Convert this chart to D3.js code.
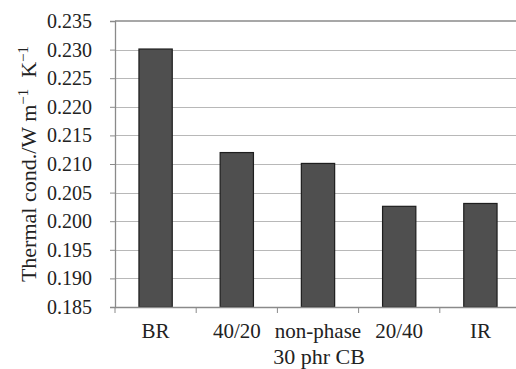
<!DOCTYPE html>
<html>
<head>
<meta charset="utf-8">
<script src="https://cdn.jsdelivr.net/npm/d3@7"></script>
<style>
  html, body { margin: 0; padding: 0; background: #fff; overflow: hidden; }
  svg text { font-family: "Liberation Serif", "Times New Roman", serif; fill: #222; }
</style>
</head>
<body>
<svg id="chart"></svg>
<script>
// data
var categories = ["BR", "40/20", "non-phase", "20/40", "IR"];
var values = [0.2301, 0.2120, 0.2101, 0.2026, 0.2031];
var yTicks = [0.185, 0.190, 0.195, 0.200, 0.205, 0.210, 0.215, 0.220, 0.225, 0.230, 0.235];

var W = 516, H = 369;
var margin = { top: 21, right: -5, bottom: 62, left: 115 },
  width = W - margin.left - margin.right,
  height = H - margin.top - margin.bottom;

var x = d3.scaleBand().domain(categories).range([0, width]).paddingInner(0.59).paddingOuter(0.295);
var xEdge = d3.scaleLinear().domain([0, categories.length]).range([0, width]);
var y = d3.scaleLinear().domain([0.185, 0.235]).range([height, 0]);

var svg = d3.select("#chart").attr("width", W).attr("height", H)
  .append("g").attr("transform", "translate(" + margin.left + "," + margin.top + ")");

// gridlines
svg.append("g").selectAll("line").data(yTicks.slice(1, -1)).enter().append("line")
  .attr("x1", 0).attr("x2", width)
  .attr("y1", function(d) { return Math.round(y(d)) + 0.5; })
  .attr("y2", function(d) { return Math.round(y(d)) + 0.5; })
  .attr("stroke", "#b8b8b8").attr("stroke-width", 1.2);

// top border of plot area
svg.append("line").attr("x1", 0).attr("x2", width)
  .attr("y1", y(0.235)).attr("y2", y(0.235))
  .attr("stroke", "#8a8a8a").attr("stroke-width", 1.3);

// bars
svg.selectAll(".bar").data(values).enter().append("rect")
  .attr("class", "bar")
  .attr("x", function(d, i) { return x(categories[i]); })
  .attr("width", x.bandwidth())
  .attr("y", function(d) { return y(d); })
  .attr("height", function(d) { return height - y(d); })
  .attr("fill", "#4f4f4f").attr("stroke", "#1e1e1e").attr("stroke-width", 1.2);

// y axis
var yAxis = svg.append("g")
  .call(d3.axisLeft(y).tickValues(yTicks).tickFormat(d3.format(".3f")).tickSizeOuter(0).tickSize(5).tickPadding(18));
yAxis.attr("font-family", null);
yAxis.select(".domain").attr("stroke", "#8a8a8a").attr("stroke-width", 1.3);
yAxis.selectAll(".tick line").attr("stroke", "#8a8a8a");
yAxis.selectAll("text").style("font-size", "20px").attr("fill", "#222");

// x axis
var xAxis = svg.append("g").attr("transform", "translate(0," + height + ")")
  .call(d3.axisBottom(x).tickSize(0).tickSizeOuter(0).tickPadding(16));
xAxis.attr("font-family", null);
xAxis.select(".domain").attr("stroke", "#8a8a8a").attr("stroke-width", 1.3);
xAxis.selectAll("text").style("font-size", "21px").attr("fill", "#222");
xAxis.append("g").selectAll("line").data(d3.range(categories.length + 1)).enter().append("line")
  .attr("x1", function(d) { return xEdge(d); }).attr("x2", function(d) { return xEdge(d); })
  .attr("y1", 0).attr("y2", 6).attr("stroke", "#8a8a8a");

// axis titles
svg.append("text")
  .attr("x", width / 2 + 1).attr("y", height + 57)
  .attr("text-anchor", "middle").style("font-size", "22px")
  .text("30 phr CB");

var yl = svg.append("text")
  .attr("transform", "translate(" + (-margin.left + 36) + "," + (height / 2) + ") rotate(-90)")
  .attr("text-anchor", "middle").style("font-size", "22px");
yl.append("tspan").text("Thermal cond./W m");
yl.append("tspan").attr("dy", -8).style("font-size", "15px").text("\u22121");
yl.append("tspan").attr("dy", 8).text("\u00a0 K");
yl.append("tspan").attr("dy", -8).style("font-size", "15px").text("\u22121");
</script>
</body>
</html>
